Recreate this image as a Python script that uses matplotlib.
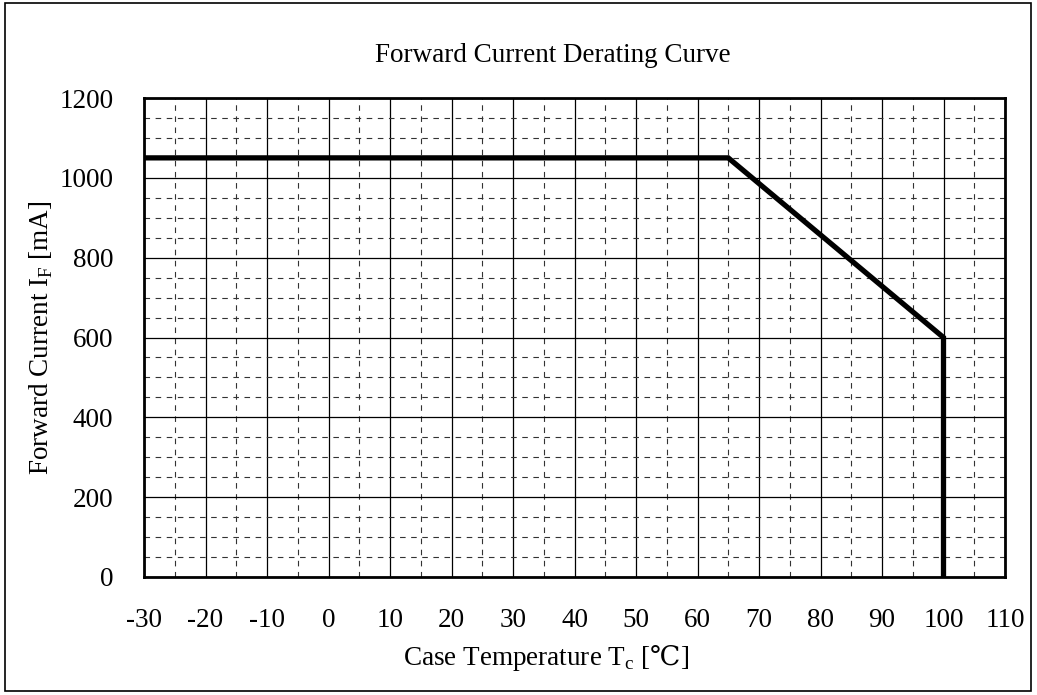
import matplotlib.pyplot as plt
from matplotlib.patches import Rectangle
from matplotlib.ticker import MultipleLocator

fontSize = 19.5
plt.rcParams['font.family'] = ['Liberation Serif', 'DejaVu Serif']
plt.rcParams['mathtext.fontset'] = 'custom'
plt.rcParams['mathtext.rm'] = 'Liberation Serif'
plt.rcParams['mathtext.sf'] = 'DejaVu Serif'
plt.rcParams['axes.unicode_minus'] = False

# derating curve points
caseTemp = [-30, 65, 100, 100]
forwardCurrent = [1050, 1050, 600, 0]

xTicks = list(range(-30, 111, 10))
yTicks = list(range(0, 1201, 200))

fig = plt.figure(figsize=(10.37, 6.95), dpi=100)
ax = fig.add_axes([144 / 1037, 118 / 695, 861 / 1037, 479 / 695])

# frame round the whole figure
fig.patches.append(Rectangle((5 / 1037, 4 / 695), 1026 / 1037, 688 / 695,
                             transform=fig.transFigure, fill=False,
                             edgecolor='black', linewidth=1.2))

ax.set_xlim(-30, 110)
ax.set_ylim(0, 1200)
ax.set_xticks(xTicks)
ax.set_yticks(yTicks)
ax.xaxis.set_minor_locator(MultipleLocator(5))
ax.yaxis.set_minor_locator(MultipleLocator(50))

ax.grid(which='major', color='black', linewidth=0.9, linestyle='-')
ax.grid(which='minor', color='#333333', linewidth=0.8, linestyle=(0, (5, 5)))
ax.set_axisbelow(True)

ax.plot(caseTemp, forwardCurrent, color='black', linewidth=3.8,
        solid_joinstyle='miter', zorder=3)

for s in ax.spines.values():
    s.set_linewidth(2.0)

ax.tick_params(which='both', length=0)
ax.tick_params(axis='y', pad=22, labelsize=fontSize)
ax.tick_params(axis='x', pad=22, labelsize=fontSize)

ax.set_title("Forward Current Derating Curve", fontsize=fontSize, pad=26)
ax.title.set_x((553 - 144) / 861)
ax.set_xlabel("Case Temperature T$_\\mathregular{c}$ [$\\mathsf{\u2103}$]", fontsize=fontSize)
ax.xaxis.set_label_coords((546 - 144) / 861, -0.137)
ax.set_ylabel("Forward Current I$_\\mathregular{F}$ [mA]", fontsize=fontSize, labelpad=3)

fig.savefig("out.png", dpi=100)
